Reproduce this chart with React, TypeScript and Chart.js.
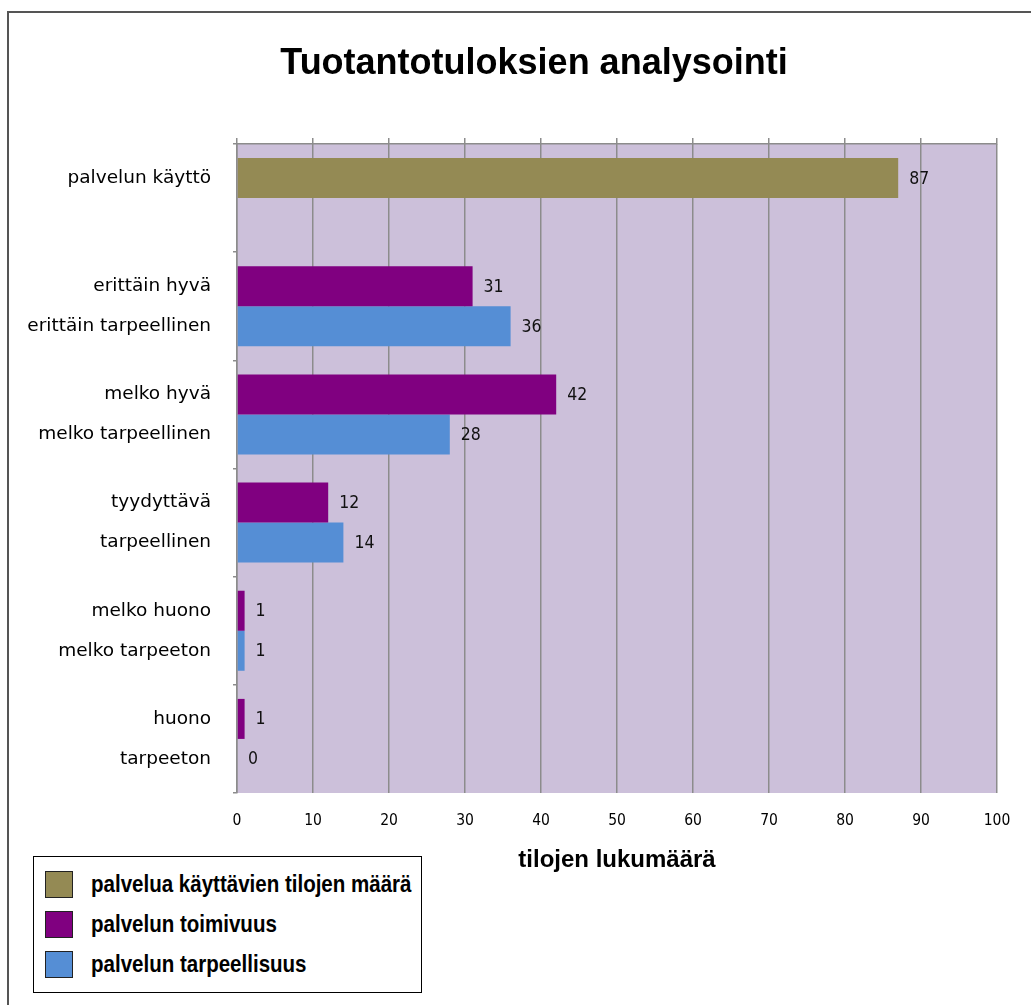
import React, { useEffect, useRef } from 'react';
import { Chart, registerables } from 'chart.js';

Chart.register(...registerables);

// ---- data ----
const chartTitle = 'Tuotantotuloksien analysointi';
const axisTitle = 'tilojen lukumäärä';
const categoryLabels: string[][] = [
  ['palvelun käyttö', ''],
  ['erittäin hyvä', 'erittäin tarpeellinen'],
  ['melko hyvä', 'melko tarpeellinen'],
  ['tyydyttävä', 'tarpeellinen'],
  ['melko huono', 'melko tarpeeton'],
  ['huono', 'tarpeeton'],
];
const seriesNames = [
  'palvelua käyttävien tilojen määrä',
  'palvelun toimivuus',
  'palvelun tarpeellisuus',
];
const usageValues: (number | null)[] = [87, null, null, null, null, null];
const functionalityValues: (number | null)[] = [null, 31, 42, 12, 1, 1];
const necessityValues: (number | null)[] = [null, 36, 28, 14, 1, 0];
const seriesColors = ['#948A54', '#800080', '#558ED5'];
const xMin = 0;
const xMax = 100;
const xStep = 10;

// ---- styles ----
const PLOT_BG = '#CCC0DA';
const GRID = '#8c8c8c';
const SANS_BOLD = '"Liberation Sans", Arial, sans-serif';

const plotBackground = {
  id: 'plotBackground',
  beforeDraw(chart: any) {
    const { ctx, chartArea } = chart;
    ctx.save();
    ctx.fillStyle = PLOT_BG;
    ctx.fillRect(chartArea.left, chartArea.top, chartArea.right - chartArea.left, chartArea.bottom - chartArea.top);
    ctx.restore();
  },
};

const valueLabels = {
  id: 'valueLabels',
  afterDatasetsDraw(chart: any) {
    const { ctx } = chart;
    ctx.save();
    ctx.font = '17.5px "DejaVu Sans Condensed", "DejaVu Sans", sans-serif';
    ctx.fillStyle = '#111';
    ctx.textAlign = 'left';
    ctx.textBaseline = 'middle';
    chart.data.datasets.forEach((ds: any, di: number) => {
      const meta = chart.getDatasetMeta(di);
      meta.data.forEach((el: any, i: number) => {
        const v = ds.data[i];
        if (v === null || v === undefined) return;
        ctx.fillText(String(v), el.x + 11, el.y + 1);
      });
    });
    ctx.restore();
  },
};

export default function App() {
  const canvasRef = useRef<HTMLCanvasElement | null>(null);

  useEffect(() => {
    if (!canvasRef.current) return;
    const chart = new Chart(canvasRef.current, {
      type: 'bar',
      data: {
        labels: categoryLabels as any,
        datasets: [
          { label: seriesNames[0], data: usageValues, backgroundColor: seriesColors[0], stack: 'top', borderWidth: 0 },
          { label: seriesNames[1], data: functionalityValues, backgroundColor: seriesColors[1], stack: 'top', borderWidth: 0 },
          { label: seriesNames[2], data: necessityValues, backgroundColor: seriesColors[2], stack: 'bottom', borderWidth: 0 },
        ] as any,
      },
      options: {
        indexAxis: 'y',
        responsive: false,
        animation: false,
        devicePixelRatio: 1,
        datasets: { bar: { categoryPercentage: 0.74, barPercentage: 1 } },
        layout: { padding: { left: 0, right: 34, top: 138, bottom: 127 } },
        plugins: {
          legend: { display: false },
          tooltip: { enabled: false },
          title: { display: false },
        },
        scales: {
          x: {
            type: 'linear',
            position: 'bottom',
            min: xMin,
            max: xMax,
            stacked: true,
            ticks: {
              stepSize: xStep,
              color: '#000',
              padding: 19,
              font: { family: '"DejaVu Sans Condensed", "DejaVu Sans", sans-serif', size: 15.5 },
            },
            grid: { color: GRID, lineWidth: 1.5, drawTicks: false },
            border: { display: false },
            title: {
              display: true,
              text: axisTitle,
              color: '#000',
              font: { family: SANS_BOLD, weight: 'bold', size: 24 },
              padding: { top: 0, bottom: 3 },
            },
            afterFit(scale: any) {
              scale.height = 85;
            },
          },
          x2: {
            type: 'linear',
            position: 'top',
            min: xMin,
            max: xMax,
            ticks: { display: false, stepSize: xStep },
            grid: { drawOnChartArea: false, drawTicks: true, tickLength: 6, color: GRID, lineWidth: 1.5 },
            border: { display: true, color: GRID, width: 1.5 },
            afterFit(scale: any) {
              scale.height = 6;
            },
          },
          y: {
            type: 'category',
            offset: true,
            ticks: {
              autoSkip: false,
              color: '#000',
              padding: 22,
              font: { family: '"DejaVu Sans", sans-serif', size: 18.5, lineHeight: 40 / 18.5 },
            },
            grid: { drawOnChartArea: false, drawTicks: true, tickLength: 4, color: GRID, lineWidth: 1.5, offset: true },
            border: { display: true, color: GRID, width: 1.5 },
            afterFit(scale: any) {
              scale.width = 237;
            },
          },
        } as any,
      },
      plugins: [plotBackground, valueLabels],
    });
    return () => chart.destroy();
  }, []);

  return (
    <div style={{ position: 'absolute', left: 0, top: 0, width: 1031, height: 1005, overflow: 'hidden', background: '#fff' }}>
      <div
        style={{
          position: 'absolute',
          left: 7,
          top: 11,
          width: 1200,
          height: 1200,
          borderLeft: '2px solid #555',
          borderTop: '2px solid #555',
        }}
      />
      <canvas ref={canvasRef} width={1031} height={1005} style={{ position: 'absolute', left: 0, top: 0 }} />
      <div
        style={{
          position: 'absolute',
          left: 0,
          top: 40.4,
          width: 1068,
          textAlign: 'center',
          fontFamily: SANS_BOLD,
          fontWeight: 'bold',
          fontSize: 36,
          lineHeight: '43.2px',
          color: '#000',
          whiteSpace: 'nowrap',
        }}
      >
        {chartTitle}
      </div>
      <div
        style={{
          position: 'absolute',
          left: 33,
          top: 856,
          width: 389,
          height: 137,
          boxSizing: 'border-box',
          border: '1.5px solid #000',
          background: '#fff',
        }}
      >
        {seriesNames.map((name, i) => (
          <div key={name} style={{ position: 'absolute', left: 11, top: 13 + i * 40, height: 28, display: 'flex', alignItems: 'center' }}>
            <div
              style={{
                width: 28,
                height: 27,
                boxSizing: 'border-box',
                border: '1.5px solid #222',
                background: seriesColors[i],
                flex: '0 0 auto',
              }}
            />
            <span
              style={{
                marginLeft: 18,
                fontFamily: SANS_BOLD,
                fontWeight: 'bold',
                fontSize: 24,
                color: '#000',
                whiteSpace: 'nowrap',
                lineHeight: '28px',
                display: 'inline-block',
                transform: 'scaleX(0.855)',
                transformOrigin: 'left center',
              }}
            >
              {name}
            </span>
          </div>
        ))}
      </div>
    </div>
  );
}
